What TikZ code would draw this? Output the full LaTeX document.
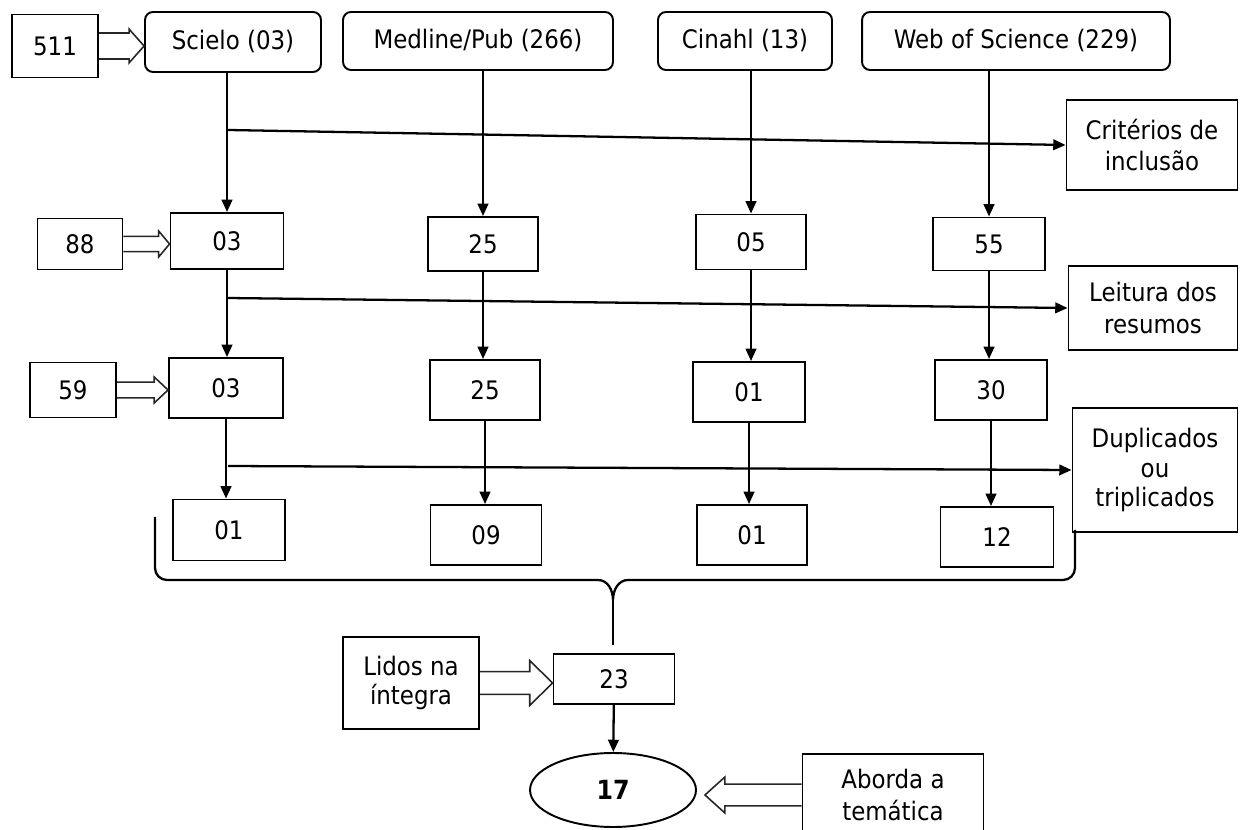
\documentclass[tikz,border=0pt]{standalone}
\usepackage{fontspec}
\setmainfont{DejaVu Sans Condensed}
\usetikzlibrary{arrows.meta,calc,shapes.geometric}

% block arrow: start, tip, body half, head half, head length
\newcommand{\fatarrow}[5]{%
  \draw[fat] let \p1=#1, \p2=#2 in
    (\x1,\y1+#3) -- (\x2-#5,\y1+#3) -- (\x2-#5,\y1+#4) -- (\x2,\y1)
    -- (\x2-#5,\y1-#4) -- (\x2-#5,\y1-#3) -- (\x1,\y1-#3);}

\begin{document}
\begin{tikzpicture}[x=0.02cm,y=-0.02cm,
    every node/.style={font=\fontsize{14.5}{18}\selectfont,align=center},
    box/.style={draw,line width=1.1pt,inner sep=0pt},
    src/.style={box,rounded corners=0.16cm},
    arr/.style={line width=1.3pt,-{Triangle[length=7pt,width=6pt]}},
    fat/.style={line width=0.9pt,black!85}]
  \useasboundingbox (0,0) rectangle (1240,830);

  % bases
  \node[src,minimum width=3.52cm,minimum height=1.2cm] (sc0) at (233,42) {Scielo (03)};
  \node[src,minimum width=5.4cm,minimum height=1.16cm] (md0) at (478,41) {Medline/Pub (266)};
  \node[src,minimum width=3.48cm,minimum height=1.16cm] (ci0) at (745,41) {Cinahl (13)};
  \node[src,minimum width=6.16cm,minimum height=1.16cm] (ws0) at (1016,41) {Web of Science (229)};

  % counts
  \node[box,minimum width=2.26cm,minimum height=1.12cm] (sc1) at (227,241) {03};
  \node[box,minimum width=2.2cm,minimum height=1.08cm] (md1) at (483,244) {25};
  \node[box,minimum width=2.2cm,minimum height=1.1cm] (ci1) at (751,242) {05};
  \node[box,minimum width=2.24cm,minimum height=1.06cm] (ws1) at (989,244) {55};

  \node[box,minimum width=2.28cm,minimum height=1.2cm] (sc2) at (226,388) {03};
  \node[box,minimum width=2.2cm,minimum height=1.2cm] (md2) at (485,390) {25};
  \node[box,minimum width=2.24cm,minimum height=1.2cm] (ci2) at (749,392) {01};
  \node[box,minimum width=2.24cm,minimum height=1.2cm] (ws2) at (991,390) {30};

  \node[box,minimum width=2.24cm,minimum height=1.22cm] (sc3) at (229,530) {01};
  \node[box,minimum width=2.22cm,minimum height=1.2cm] (md3) at (486,535) {09};
  \node[box,minimum width=2.2cm,minimum height=1.2cm] (ci3) at (752,535) {01};
  \node[box,minimum width=2.26cm,minimum height=1.2cm] (ws3) at (997,537) {12};

  % totals on the left
  \node[box,minimum width=1.72cm,minimum height=1.26cm] (n511) at (55,46) {511};
  \node[box,minimum width=1.7cm,minimum height=1.02cm] (n88) at (80,244) {88};
  \node[box,minimum width=1.72cm,minimum height=1.1cm] (n59) at (73,390) {59};

  % filters
  \node[box,minimum width=3.42cm,minimum height=1.8cm] (crit) at (1152,145) {Critérios de\\inclusão};
  \node[box,minimum width=3.38cm,minimum height=1.68cm] (leit) at (1153,308) {Leitura dos\\resumos};
  \node[box,minimum width=3.3cm,minimum height=2.48cm,font=\fontsize{14.5}{17}\selectfont] (dup) at (1155,470) {Duplicados\\ou\\triplicados};

  % end
  \node[box,minimum width=2.42cm,minimum height=1cm] (n23) at (614,679) {23};
  \node[box,minimum width=2.72cm,minimum height=1.84cm,font=\fontsize{14.5}{17}\selectfont] (lidos) at (411,683) {Lidos na\\íntegra};
  \node[draw,ellipse,line width=1.1pt,inner sep=0pt,minimum width=3.32cm,minimum height=1.48cm,
        font=\fontsize{15}{18}\selectfont\bfseries] (n17) at (613,790) {17};
  \node[box,minimum width=3.62cm,minimum height=1.64cm] (abor) at (893,795) {Aborda a\\temática};

  \foreach \c in {sc,md,ci,ws} {
    \draw[arr] (\c1 |- \c0.south) -- (\c1.north);
    \draw[arr] (\c1.south) -- (\c1 |- \c2.north);
    \draw[arr] (\c2.south) -- (\c2 |- \c3.north);
  }

  \coordinate (b1) at (228,130);
  \coordinate (b2) at (228,298);
  \coordinate (b3) at (228,466);
  \draw[arr] (b1) -- (crit.west);
  \draw[arr] (b2) -- (leit.west);
  \draw[arr] (b3) -- (dup.west);

  \fatarrow{(n511.east)}{(sc0.west)}{7.4pt}{9.6pt}{8.5pt}
  \fatarrow{(n88.east)}{(sc1.west)}{4.3pt}{7.4pt}{6.2pt}
  \fatarrow{(n59.east)}{(sc2.west)}{4.5pt}{7.4pt}{7.9pt}
  \fatarrow{(lidos.east)}{(n23.west)}{6.5pt}{12.8pt}{13pt}
  \fatarrow{(abor.west)}{($(n17.east)+(8,0)$)}{6.2pt}{10.2pt}{-11.3pt}

  % brace
  \coordinate (tip) at (613,645);
  \draw[line width=1.3pt] (155,517) -- (155,568) to[out=-90,in=180] (167,580) -- (598,580)
    to[out=0,in=90] (613,600) to[out=90,in=180] (628,580) -- (1063,580)
    to[out=0,in=-90] (1075,568) -- (1075,530);
  \draw[line width=1.3pt] (613,600) -- (tip);
  \draw[arr] (n23) -- (n17);
\end{tikzpicture}
\end{document}
